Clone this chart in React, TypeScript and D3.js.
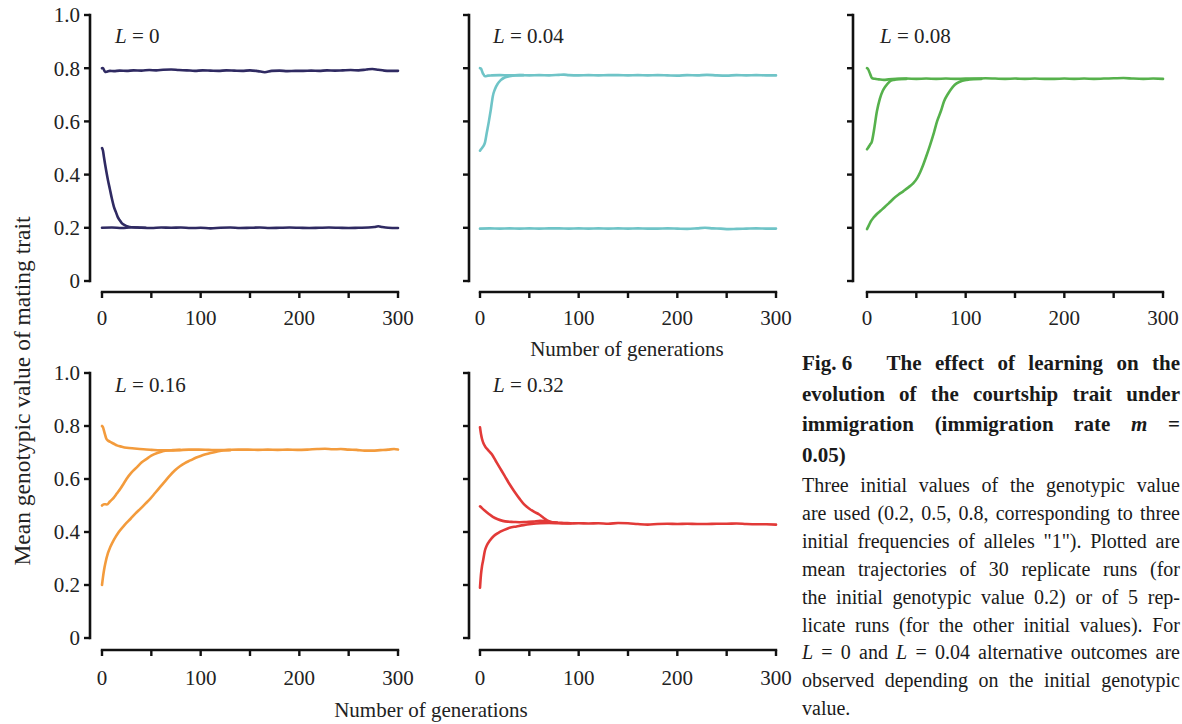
import React, { useEffect, useRef } from 'react';
import * as d3 from 'd3';

type Pt = [number, number];

// ---------------- data ----------------
const panelLabels = ['0', '0.04', '0.08', '0.16', '0.32'];
const panelColors = ['#2f2a62', '#6fc4c7', '#56b14c', '#f39b3c', '#e23a38'];
const xTickValues = [0, 50, 100, 150, 200, 250, 300];
const xLabelValues = [0, 100, 200, 300];
const yTickValues = [0, 0.2, 0.4, 0.6, 0.8, 1.0];
const yTickLabels = ['0', '0.2', '0.4', '0.6', '0.8', '1.0'];

const L0_init08: Pt[] = [[0,0.800],[1,0.801],[3,0.786],[5,0.787],[8,0.790],[12,0.789],[18,0.791],[25,0.790],[32,0.792],[40,0.791],[48,0.793],[55,0.792],[62,0.794],[70,0.795],[78,0.793],[86,0.792],[94,0.790],[102,0.792],[110,0.791],[118,0.790],[126,0.792],[134,0.791],[142,0.790],[150,0.792],[158,0.789],[165,0.785],[172,0.790],[180,0.791],[188,0.789],[196,0.790],[204,0.790],[212,0.791],[220,0.790],[228,0.792],[236,0.791],[244,0.792],[252,0.793],[260,0.792],[268,0.795],[274,0.797],[280,0.794],[286,0.791],[292,0.790],[300,0.790]];
const L0_init05: Pt[] = [[0,0.500],[1,0.490],[2,0.465],[4,0.420],[6,0.380],[8,0.345],[10,0.310],[12,0.280],[14,0.260],[16,0.240],[18,0.228],[20,0.218],[23,0.210],[26,0.205],[30,0.202],[36,0.201],[44,0.200]];
const L0_init02: Pt[] = [[0,0.200],[10,0.201],[20,0.199],[30,0.202],[40,0.200],[50,0.199],[60,0.201],[70,0.200],[80,0.201],[90,0.199],[100,0.200],[110,0.198],[120,0.200],[130,0.201],[140,0.199],[150,0.200],[160,0.201],[170,0.199],[180,0.200],[190,0.201],[200,0.200],[210,0.199],[220,0.200],[230,0.201],[240,0.200],[250,0.199],[260,0.200],[270,0.201],[276,0.203],[280,0.206],[284,0.203],[290,0.200],[300,0.199]];

const L04_init08: Pt[] = [[0,0.800],[1,0.798],[3,0.780],[5,0.770],[8,0.772],[12,0.773],[20,0.774],[30,0.773],[40,0.774],[50,0.773],[60,0.774],[70,0.773],[80,0.775],[85,0.776],[90,0.774],[100,0.773],[110,0.774],[120,0.773],[130,0.774],[140,0.774],[150,0.773],[160,0.774],[170,0.773],[180,0.774],[190,0.773],[200,0.772],[210,0.774],[220,0.773],[230,0.775],[240,0.773],[250,0.772],[260,0.774],[270,0.773],[280,0.774],[290,0.773],[300,0.773]];
const L04_init05: Pt[] = [[0,0.490],[1,0.495],[3,0.505],[5,0.520],[7,0.560],[9,0.600],[11,0.645],[13,0.695],[15,0.720],[18,0.742],[21,0.755],[25,0.765],[30,0.770],[36,0.773],[44,0.774]];
const L04_init02: Pt[] = [[0,0.197],[10,0.198],[20,0.197],[30,0.198],[40,0.197],[50,0.198],[60,0.197],[70,0.198],[80,0.198],[90,0.197],[100,0.198],[110,0.197],[120,0.198],[130,0.197],[140,0.198],[150,0.197],[160,0.198],[170,0.197],[180,0.197],[190,0.198],[200,0.197],[210,0.196],[220,0.198],[228,0.200],[236,0.198],[244,0.197],[252,0.195],[260,0.196],[270,0.197],[280,0.198],[290,0.197],[300,0.197]];

const L08_init08: Pt[] = [[0,0.800],[1,0.797],[3,0.780],[5,0.763],[8,0.760],[12,0.758],[17,0.756],[22,0.758],[30,0.760],[40,0.761],[50,0.760],[60,0.761],[70,0.760],[80,0.761],[90,0.760],[100,0.761],[110,0.761],[120,0.762],[130,0.761],[140,0.760],[150,0.761],[160,0.760],[170,0.761],[180,0.760],[190,0.760],[200,0.761],[210,0.760],[220,0.761],[230,0.760],[240,0.761],[250,0.762],[260,0.763],[270,0.761],[280,0.760],[290,0.761],[300,0.760]];
const L08_init05: Pt[] = [[0,0.495],[1,0.500],[3,0.512],[5,0.525],[7,0.565],[10,0.637],[13,0.685],[16,0.715],[19,0.733],[23,0.750],[27,0.756],[32,0.759],[40,0.760]];
const L08_init02: Pt[] = [[0,0.195],[2,0.210],[4,0.225],[7,0.240],[10,0.252],[14,0.265],[18,0.278],[22,0.292],[27,0.310],[32,0.325],[37,0.338],[42,0.352],[47,0.368],[51,0.388],[54,0.410],[57,0.437],[60,0.468],[64,0.512],[68,0.560],[71,0.600],[75,0.640],[78,0.675],[82,0.703],[85,0.720],[89,0.738],[94,0.749],[101,0.756],[108,0.759],[116,0.760]];

const L16_init08: Pt[] = [[0,0.800],[1,0.795],[2.4,0.777],[4.4,0.752],[6,0.745],[8.4,0.740],[12,0.733],[15,0.727],[20,0.722],[25,0.718],[33,0.715],[42,0.712],[50,0.710],[59,0.708],[68,0.708],[78,0.709],[88,0.711],[98,0.711],[108,0.710],[118,0.709],[128,0.710],[138,0.711],[148,0.711],[158,0.710],[168,0.711],[178,0.710],[188,0.711],[198,0.710],[208,0.711],[218,0.713],[226,0.714],[234,0.712],[242,0.713],[250,0.711],[258,0.710],[266,0.707],[274,0.707],[282,0.709],[290,0.711],[296,0.713],[300,0.711]];
const L16_init05: Pt[] = [[0,0.500],[2,0.505],[5,0.504],[8,0.515],[12,0.530],[15,0.545],[18.6,0.563],[22,0.583],[25,0.601],[30,0.625],[35.5,0.645],[40,0.662],[45.6,0.677],[50,0.688],[56,0.698],[61,0.704],[66,0.708],[72,0.709],[79,0.710]];
const L16_init02: Pt[] = [[0,0.200],[1,0.230],[2,0.255],[3.4,0.282],[6,0.320],[8.4,0.343],[12,0.370],[17,0.400],[23,0.427],[29,0.450],[34,0.470],[39,0.488],[44,0.507],[49,0.526],[54,0.548],[59,0.570],[64,0.592],[69,0.614],[74,0.633],[79,0.648],[84,0.660],[89.5,0.670],[95,0.680],[100,0.687],[105,0.693],[110,0.698],[116,0.703],[123,0.708],[130,0.709]];

const L32_init08: Pt[] = [[0,0.795],[1,0.770],[2,0.752],[3.5,0.735],[5,0.724],[8,0.710],[12,0.693],[16,0.668],[20,0.643],[25,0.612],[30,0.580],[35,0.552],[40,0.526],[45,0.503],[50,0.488],[55,0.476],[60,0.466],[64,0.455],[68,0.444],[72,0.438],[78,0.435],[85,0.434],[92,0.433]];
const L32_init05: Pt[] = [[0,0.497],[2,0.490],[5,0.480],[9,0.468],[13,0.457],[18,0.448],[23,0.442],[28,0.439],[34,0.438],[40,0.437],[47,0.438],[54,0.439],[61,0.442],[66,0.441],[71,0.438],[78,0.436]];
const L32_init02: Pt[] = [[0,0.190],[1,0.240],[2,0.270],[3,0.290],[5,0.330],[7,0.350],[10,0.368],[14,0.385],[18.6,0.397],[24,0.407],[30,0.416],[37,0.421],[44,0.426],[52,0.430],[61,0.433],[70,0.434],[80,0.433],[90,0.432],[100,0.433],[110,0.432],[120,0.433],[130,0.431],[140,0.434],[150,0.433],[160,0.430],[170,0.428],[180,0.430],[190,0.431],[200,0.430],[210,0.431],[220,0.430],[230,0.430],[240,0.431],[250,0.431],[260,0.432],[270,0.430],[280,0.429],[290,0.429],[300,0.428]];

const panelSeries: Pt[][][] = [
  [L0_init02, L0_init05, L0_init08],
  [L04_init02, L04_init05, L04_init08],
  [L08_init02, L08_init05, L08_init08],
  [L16_init02, L16_init05, L16_init08],
  [L32_init02, L32_init05, L32_init08],
];

const yAxisTitle = 'Mean genotypic value of mating trait';
const xAxisTitle = 'Number of generations';

const captionTitleLines = [
  'Fig.\u00a06\u2003 The effect of learning on the',
  'evolution of the courtship trait under',
  'immigration (immigration rate *m* =',
  '0.05)',
];
const captionBodyLines = [
  'Three initial values of the genotypic value',
  'are used (0.2, 0.5, 0.8, corresponding to three',
  'initial frequencies of alleles "1"). Plotted are',
  'mean trajectories of 30 replicate runs (for',
  'the initial genotypic value 0.2) or of 5 rep-',
  'licate runs (for the other initial values). For',
  '*L* = 0 and *L* = 0.04 alternative outcomes are',
  'observed depending on the initial genotypic',
  'value.',
];

// ---------------- layout ----------------
const W = 1182, H = 724;
const FONT = "'Liberation Serif', 'Times New Roman', serif";
const cols = [
  { axisX: 90, x0: 102, x1: 398 },
  { axisX: 469, x0: 480, x1: 776 },
  { axisX: 853, x0: 867, x1: 1163 },
];
const rows = [
  { yTop: 15, yBot: 281, xAxisY: 292, labelY: 43, tickLabelY: 325 },
  { yTop: 373, yBot: 638, xAxisY: 650, labelY: 392, tickLabelY: 685 },
];
const panelPos = [[0, 0], [0, 1], [0, 2], [1, 0], [1, 1]];

const Panel: React.FC<{ idx: number }> = ({ idx }) => {
  const [r, c] = panelPos[idx];
  const row = rows[r];
  const col = cols[c];
  const x = d3.scaleLinear().domain([0, 300]).range([col.x0, col.x1]);
  const y = d3.scaleLinear().domain([0, 1]).range([row.yBot, row.yTop]);
  const line = d3.line<Pt>().x(d => x(d[0])).y(d => y(d[1])).curve(d3.curveMonotoneX);
  const color = panelColors[idx];
  return (
    <g>
      <line x1={col.axisX} x2={col.axisX} y1={y(0) + 1.2} y2={y(1) - 1.2} stroke="#111" strokeWidth={2.6} />
      {yTickValues.map((v, i) => (
        <line key={'yt' + i} x1={col.axisX - 6} x2={col.axisX} y1={y(v)} y2={y(v)} stroke="#111" strokeWidth={2.4} />
      ))}
      {c === 0 && yTickValues.map((v, i) => (
        <text key={'yl' + i} x={col.axisX - 10} y={y(v)} dy="0.35em" textAnchor="end" fontSize={21} fontFamily={FONT} fill="#222">{yTickLabels[i]}</text>
      ))}
      <line x1={x(0) - 1.2} x2={x(300) + 1.2} y1={row.xAxisY} y2={row.xAxisY} stroke="#111" strokeWidth={2.6} />
      {xTickValues.map((v, i) => (
        <line key={'xt' + i} x1={x(v)} x2={x(v)} y1={row.xAxisY} y2={row.xAxisY + 6} stroke="#111" strokeWidth={2.4} />
      ))}
      {xLabelValues.map((v, i) => (
        <text key={'xl' + i} x={x(v)} y={row.tickLabelY} textAnchor="middle" fontSize={21} fontFamily={FONT} fill="#222">{v}</text>
      ))}
      <text x={col.x0 + 13} y={row.labelY} fontSize={21} fontFamily={FONT} fill="#222">
        <tspan fontStyle="italic">L</tspan> = {panelLabels[idx]}
      </text>
      {panelSeries[idx].map((s, i) => (
        <path key={'s' + i} d={line(s) || ''} fill="none" stroke={color} strokeWidth={2.6} strokeLinejoin="round" strokeLinecap="round" />
      ))}
    </g>
  );
};

const App: React.FC = () => {
  const capRef = useRef<SVGGElement>(null);

  useEffect(() => {
    const g = d3.select(capRef.current);
    g.selectAll('*').remove();
    const left = 802, right = 1180;
    const all = [
      ...captionTitleLines.map((t, i) => ({ t, bold: true, size: 21, y: 370 + i * 30.7, justify: i < captionTitleLines.length - 1 })),
      ...captionBodyLines.map((t, i) => ({ t, bold: false, size: 20, y: 492 + i * 27.9, justify: i < captionBodyLines.length - 1 })),
    ];
    all.forEach(line => {
      const words = line.t.split(' ');
      const nodes = words.map(w => {
        const italic = w.length > 2 && w.startsWith('*') && w.endsWith('*');
        const txt = italic ? w.slice(1, -1) : w;
        return g.append('text')
          .attr('y', line.y)
          .attr('font-family', FONT)
          .attr('font-size', line.size)
          .attr('font-weight', line.bold ? 'bold' : 'normal')
          .attr('font-style', italic ? 'italic' : 'normal')
          .attr('fill', '#1a1a1a')
          .text(txt);
      });
      const widths = nodes.map(n => (n.node() as SVGTextElement).getComputedTextLength());
      const total = d3.sum(widths);
      const gap = line.justify && words.length > 1 ? (right - left - total) / (words.length - 1) : line.size * 0.25;
      let xpos = left;
      nodes.forEach((n, i) => {
        n.attr('x', xpos);
        xpos += widths[i] + gap;
      });
    });
  }, []);

  return (
    <svg width={W} height={H} style={{ position: 'absolute', left: 0, top: 0, background: '#fff' }}>
      <rect width={W} height={H} fill="#fff" />
      {[0, 1, 2, 3, 4].map(i => <Panel key={i} idx={i} />)}
      <text x={627} y={356} textAnchor="middle" fontSize={21} fontFamily={FONT} fill="#222">{xAxisTitle}</text>
      <text x={431} y={717} textAnchor="middle" fontSize={21} fontFamily={FONT} fill="#222">{xAxisTitle}</text>
      <text transform="translate(30,391) rotate(-90)" textAnchor="middle" fontSize={23.5} fontFamily={FONT} fill="#222">{yAxisTitle}</text>
      <g ref={capRef} />
    </svg>
  );
};

export default App;
